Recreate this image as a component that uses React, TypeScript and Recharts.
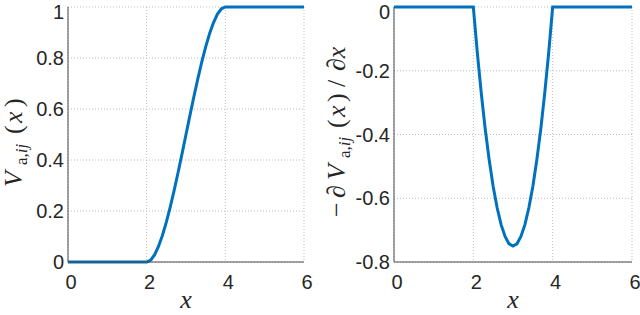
import React from 'react';
import { LineChart, Line, XAxis, YAxis, CartesianGrid, Label } from 'recharts';

const xValues = [0, 0.5, 1, 1.5, 2, 2.1, 2.2, 2.3, 2.4, 2.5, 2.6, 2.7, 2.8, 2.9, 3, 3.1, 3.2, 3.3, 3.4, 3.5, 3.6, 3.7, 3.8, 3.9, 4, 4.5, 5, 5.5, 6];
const potential = [0, 0, 0, 0, 0, 0.007, 0.028, 0.061, 0.104, 0.156, 0.216, 0.282, 0.352, 0.425, 0.5, 0.575, 0.648, 0.718, 0.784, 0.844, 0.896, 0.939, 0.972, 0.993, 1, 1, 1, 1, 1];
const negDerivative = [0, 0, 0, 0, 0, -0.143, -0.27, -0.383, -0.48, -0.563, -0.63, -0.683, -0.72, -0.743, -0.75, -0.743, -0.72, -0.683, -0.63, -0.563, -0.48, -0.383, -0.27, -0.143, 0, 0, 0, 0, 0];

const xTicks = [0, 2, 4, 6];
const leftYTicks = [0, 0.2, 0.4, 0.6, 0.8, 1];
const rightYTicks = [-0.8, -0.6, -0.4, -0.2, 0];

const leftData = xValues.map((x, i) => ({ x, v: potential[i] }));
const rightData = xValues.map((x, i) => ({ x, d: negDerivative[i] }));

const BLUE = '#0072BD';
const INK = '#262626';
const BOX = '#4a4a4a';
const GRID = '#bdbdbd';
const sansFont = 'Liberation Sans, Arial, sans-serif';
const mathFont = 'Liberation Serif, Times New Roman, serif';
const yTickStyle = { fontFamily: sansFont, fontSize: 20, fill: INK };
const xTickStyle = { fontFamily: sansFont, fontSize: 20, fill: INK, dx: 3 };
const main = { fontFamily: mathFont, fontSize: 26 };
const sub = { fontFamily: mathFont, fontSize: 17 };

const XLabel = ({ cx }: { cx: number }) => (
  <text x={cx} y={308} textAnchor="middle" style={{ fontFamily: mathFont, fontStyle: 'italic', fontSize: 26 }} fill={INK}>x</text>
);

const LeftYLabel = () => (
  <text transform="translate(22, 187) rotate(-90)" style={main} fill={INK}>
    <tspan x={0} y={0} style={{ fontStyle: 'italic' }}>V</tspan>
    <tspan x={22} y={5} style={sub}>a,</tspan>
    <tspan style={{ ...sub, fontStyle: 'italic' }}>ij</tspan>
    <tspan x={53} y={0}>(</tspan>
    <tspan x={64} y={0} style={{ fontStyle: 'italic' }}>x</tspan>
    <tspan x={80} y={0}>)</tspan>
  </text>
);

const RightYLabel = () => (
  <text transform="translate(25, 217) rotate(-90)" style={main} fill={INK}>
    <tspan x={0} y={0}>−</tspan>
    <tspan x={19} y={0} style={{ fontStyle: 'italic' }}>∂</tspan>
    <tspan x={37} y={0} style={{ fontStyle: 'italic' }}>V</tspan>
    <tspan x={59} y={5} style={sub}>a,</tspan>
    <tspan style={{ ...sub, fontStyle: 'italic' }}>ij</tspan>
    <tspan x={89} y={0}>(</tspan>
    <tspan x={100} y={0} style={{ fontStyle: 'italic' }}>x</tspan>
    <tspan x={115} y={0}>)</tspan>
    <tspan x={130} y={0}>/</tspan>
    <tspan x={146} y={0} style={{ fontStyle: 'italic' }}>∂x</tspan>
  </text>
);

export default function App() {
  return (
    <div style={{ position: 'absolute', left: 0, top: 0, width: 640, height: 315, background: '#fff' }}>
      <div style={{ position: 'absolute', left: 0, top: 0 }}>
        <LineChart width={320} height={315} data={leftData} margin={{ top: 7, right: 16, bottom: 0, left: 0 }}>
          <CartesianGrid stroke={GRID} strokeDasharray="1 2" />
          <XAxis dataKey="x" type="number" domain={[0, 6]} ticks={xTicks} tickSize={0} tickMargin={13} height={53}
            axisLine={{ stroke: BOX }} tick={xTickStyle}>
            <Label content={() => <XLabel cx={186} />} />
          </XAxis>
          <XAxis xAxisId="top" orientation="top" dataKey="x" type="number" domain={[0, 6]} ticks={xTicks} height={0}
            tick={false} tickLine={false} axisLine={{ stroke: BOX }} />
          <YAxis type="number" domain={[0, 1]} ticks={leftYTicks} tickSize={0} tickMargin={4} width={68}
            axisLine={{ stroke: BOX }} tick={yTickStyle}>
            <Label content={() => <LeftYLabel />} />
          </YAxis>
          <YAxis yAxisId="right" orientation="right" type="number" domain={[0, 1]} ticks={leftYTicks} width={0}
            tick={false} tickLine={false} axisLine={{ stroke: BOX }} />
          <Line dataKey="v" type="linear" stroke={BLUE} strokeWidth={3} dot={false} isAnimationActive={false} />
        </LineChart>
      </div>
      <div style={{ position: 'absolute', left: 320, top: 0 }}>
        <LineChart width={320} height={315} data={rightData} margin={{ top: 7, right: 8, bottom: 0, left: 0 }}>
          <CartesianGrid stroke={GRID} strokeDasharray="1 2" />
          <XAxis dataKey="x" type="number" domain={[0, 6]} ticks={xTicks} tickSize={0} tickMargin={13} height={53}
            axisLine={{ stroke: BOX }} tick={xTickStyle}>
            <Label content={() => <XLabel cx={193} />} />
          </XAxis>
          <XAxis xAxisId="top" orientation="top" dataKey="x" type="number" domain={[0, 6]} ticks={xTicks} height={0}
            tick={false} tickLine={false} axisLine={{ stroke: BOX }} />
          <YAxis type="number" domain={[-0.8, 0]} ticks={rightYTicks} tickSize={0} tickMargin={4} width={74}
            axisLine={{ stroke: BOX }} tick={yTickStyle}>
            <Label content={() => <RightYLabel />} />
          </YAxis>
          <YAxis yAxisId="right" orientation="right" type="number" domain={[-0.8, 0]} ticks={rightYTicks} width={0}
            tick={false} tickLine={false} axisLine={{ stroke: BOX }} />
          <Line dataKey="d" type="linear" stroke={BLUE} strokeWidth={3} dot={false} isAnimationActive={false} />
        </LineChart>
      </div>
    </div>
  );
}
